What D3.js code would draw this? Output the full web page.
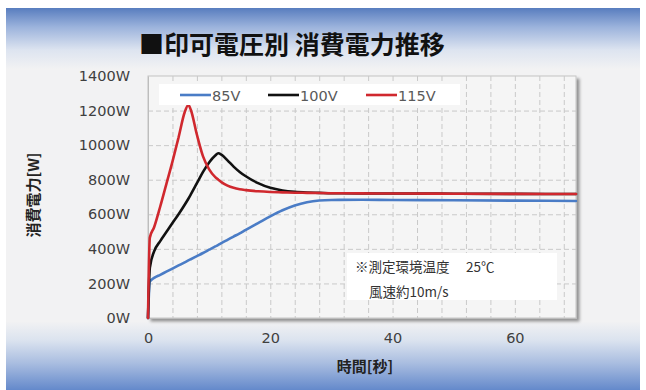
<!DOCTYPE html>
<html>
<head>
<meta charset="utf-8">
<script src="https://cdn.jsdelivr.net/npm/d3@7"></script>
<style>
  html, body { margin: 0; padding: 0; background: #ffffff; }
  svg { display: block; }
</style>
</head>
<body>
<svg id="chart" width="646" height="390"></svg>
<script>
// Elapsed time after power-on (seconds)
const timeSec = [0, 0.3, 1, 2, 3, 4, 5, 6, 6.6, 7, 8, 9, 10, 11, 11.5, 12, 13, 14, 15, 16, 18, 20, 22, 24, 26, 28, 30, 35, 40, 50, 60, 70];

// Power draw (W) per supply voltage
const watt85V  = [0, 210, 232, 250, 268, 286, 304, 322, 333, 340, 358, 376, 395, 414, 423, 433, 452, 471, 490, 510, 549, 588, 623, 651, 670, 680, 683, 684, 683, 681, 679, 677];
const watt100V = [0, 290, 385, 445, 497, 549, 600, 655, 690, 715, 780, 845, 900, 940, 953, 945, 912, 876, 845, 820, 780, 753, 738, 730, 726, 724, 722, 721, 720, 719, 718, 717];
const watt115V = [0, 465, 525, 645, 775, 905, 1045, 1190, 1232, 1205, 1060, 935, 860, 815, 800, 786, 766, 753, 745, 740, 733, 729, 727, 725, 724, 723, 722, 721, 720, 719, 718, 717];

const seriesNames  = ["85V", "100V", "115V"];
const seriesColors = ["#4a7cc6", "#111111", "#d0282e"];
const seriesValues = [watt85V, watt100V, watt115V];

const yTicks = [0, 200, 400, 600, 800, 1000, 1200, 1400];
const xTicks = [0, 20, 40, 60];

const svg = d3.select("#chart");
const defs = svg.append("defs");

// Panel background: blue bands fading into light grey
const bg = defs.append("linearGradient").attr("id", "bgGrad")
  .attr("x1", 0).attr("y1", 0).attr("x2", 0).attr("y2", 1);
[[0, "#587dbf"], [0.05, "#9cb3dc"], [0.11, "#dde4f0"], [0.16, "#f2f2f3"],
 [0.82, "#f2f2f3"], [0.87, "#dbe3ef"], [0.93, "#a9bde0"], [1, "#6489cb"]]
  .forEach(([o, c]) => bg.append("stop").attr("offset", o).attr("stop-color", c));

const shadow = defs.append("filter").attr("id", "plotShadow")
  .attr("x", "-5%").attr("y", "-5%").attr("width", "115%").attr("height", "115%");
shadow.append("feDropShadow").attr("dx", 3).attr("dy", 3).attr("stdDeviation", 1.6)
  .attr("flood-color", "#000").attr("flood-opacity", 0.4);

svg.append("rect").attr("x", 6).attr("y", 8).attr("width", 634).attr("height", 382)
  .attr("fill", "url(#bgGrad)");

// Plot geometry
const plotL = 148, plotR = 576, plotT = 76, plotB = 318;
const x = d3.scaleLinear().domain([0, 70]).range([plotL, plotR]);
const y = d3.scaleLinear().domain([0, 1400]).range([plotB, plotT]);

svg.append("rect").attr("x", plotL).attr("y", plotT)
  .attr("width", plotR - plotL).attr("height", plotB - plotT)
  .attr("fill", "#f5f5f5").attr("stroke", "#c4c4c4").attr("stroke-width", 1)
  .attr("filter", "url(#plotShadow)");

// Dashed grid
const grid = svg.append("g").attr("stroke", "#c9c9c9").attr("stroke-width", 1)
  .attr("stroke-dasharray", "5,3");
grid.selectAll("line.v").data(d3.range(4, 70, 4)).join("line")
  .attr("x1", d => x(d) + 0.5).attr("x2", d => x(d) + 0.5)
  .attr("y1", plotT).attr("y2", plotB);
grid.selectAll("line.h").data(yTicks.filter(d => d > 0 && d < 1400)).join("line")
  .attr("x1", plotL).attr("x2", plotR)
  .attr("y1", d => y(d) + 0.5).attr("y2", d => y(d) + 0.5);

// Axes
const yAxis = svg.append("g").attr("transform", `translate(${plotL},0)`)
  .call(d3.axisLeft(y).tickValues(yTicks).tickFormat(d => d + "W").tickSize(0).tickPadding(18));
yAxis.select(".domain").attr("stroke", "#bdbdbd");
yAxis.selectAll("text").attr("font-family", "'DejaVu Sans', sans-serif")
  .attr("font-size", 14.5).attr("fill", "#3f3f3f");

const xAxis = svg.append("g").attr("transform", `translate(0,${plotB})`)
  .call(d3.axisBottom(x).tickValues(xTicks).tickSize(0).tickPadding(15));
xAxis.select(".domain").attr("stroke", "#bdbdbd");
xAxis.selectAll("text").attr("font-family", "'DejaVu Sans', sans-serif")
  .attr("font-size", 14.5).attr("fill", "#3f3f3f");

// Series lines
const line = d3.line().x((d, i) => x(timeSec[i])).y(d => y(d)).curve(d3.curveMonotoneX);
svg.append("g").selectAll("path").data(seriesValues).join("path")
  .attr("d", d => line(d)).attr("fill", "none")
  .attr("stroke", (d, i) => seriesColors[i]).attr("stroke-width", 2.6)
  .attr("stroke-linejoin", "round").attr("stroke-linecap", "round");

// Legend
const lg = svg.append("g");
lg.append("rect").attr("x", 159).attr("y", 84).attr("width", 301).attr("height", 21).attr("fill", "#ffffff");
const legendX = [180, 268, 366];
seriesNames.forEach((name, i) => {
  lg.append("line").attr("x1", legendX[i]).attr("x2", legendX[i] + 31)
    .attr("y1", 95).attr("y2", 95).attr("stroke", seriesColors[i]).attr("stroke-width", 2.6);
  lg.append("text").attr("x", legendX[i] + 32).attr("y", 100.5).text(name)
    .attr("font-family", "'DejaVu Sans', sans-serif").attr("font-size", 14.5).attr("fill", "#595959");
});

// Measurement conditions note
const note = svg.append("g");
note.append("rect").attr("x", 347).attr("y", 253).attr("width", 210).attr("height", 47).attr("fill", "#ffffff");
note.append("text").attr("x", 355).attr("y", 272).text("※測定環境温度\u3000 25℃")
  .attr("font-family", "'Noto Sans CJK JP', sans-serif").attr("font-size", 13.5).attr("fill", "#333333");
note.append("text").attr("x", 369).attr("y", 297).text("風速約10m/s")
  .attr("font-family", "'Noto Sans CJK JP', sans-serif").attr("font-size", 13.5).attr("fill", "#333333");

// Titles
svg.append("text").attr("x", 139).attr("y", 54).text("■印可電圧別 消費電力推移")
  .attr("font-family", "'Noto Sans CJK JP', sans-serif").attr("font-weight", "bold")
  .attr("font-size", 25).attr("fill", "#111111");

svg.append("text").attr("x", 365).attr("y", 372).attr("text-anchor", "middle").text("時間[秒]")
  .attr("font-family", "'Noto Sans CJK JP', sans-serif").attr("font-weight", "bold")
  .attr("font-size", 15).attr("fill", "#222222");

svg.append("text").attr("transform", "translate(39,195) rotate(-90)").attr("text-anchor", "middle")
  .text("消費電力[W]")
  .attr("font-family", "'Noto Sans CJK JP', sans-serif").attr("font-weight", "bold")
  .attr("font-size", 15).attr("fill", "#222222");
</script>
</body>
</html>
